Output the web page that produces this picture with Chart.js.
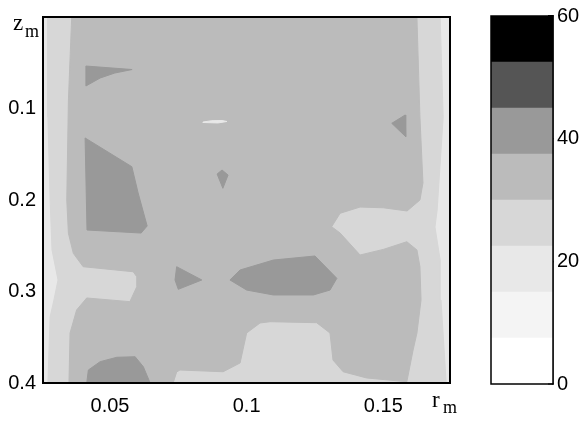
<!DOCTYPE html>
<html>
<head>
<meta charset="utf-8">
<script src="https://cdn.jsdelivr.net/npm/chart.js@4.4.1/dist/chart.umd.min.js"></script>
<style>
  html, body { margin: 0; padding: 0; background: #ffffff; }
  #wrap { position: relative; width: 584px; height: 421px; }
  #main { position: absolute; left: 0; top: 0; }
  #bar { position: absolute; left: 470px; top: 0; }
</style>
</head>
<body>
<div id="wrap">
  <canvas id="main" width="584" height="421"></canvas>
  <canvas id="bar" width="114" height="421"></canvas>
</div>
<script>
// ---- colour levels (colour bar) ----
const levels = [0, 7.5, 15, 22.5, 30, 37.5, 45, 52.5, 60];
const bandColors = ['#ffffff', '#f4f4f4', '#e8e8e8', '#d7d7d7', '#bbbbbb', '#999999', '#555555', '#000000'];
const barTickValues = [0, 20, 40, 60];

// ---- axes ----
const rRange = [0.0255, 0.1744];
const zRange = [0, 0.4];
const rTicks = [0.05, 0.1, 0.15];
const rTickLabels = ['0.05', '0.1', '0.15'];
const zTicks = [0.1, 0.2, 0.3, 0.4];
const zTickLabels = ['0.1', '0.2', '0.3', '0.4'];

// ---- contour regions [r, z] (band index = colour level) ----
const regionOuter = [[0.0255, 0], [0.1744, 0], [0.1744, 0.4], [0.0255, 0.4]];            // band 2
const regionLight = [[0.0273, 0], [0.0273, 0.1093], [0.0281, 0.2], [0.0288, 0.2546], [0.0310, 0.2874],
  [0.0295, 0.3093], [0.0281, 0.3279], [0.0273, 0.4], [0.1730, 0.4], [0.1711, 0.3093], [0.1708, 0.2656],
  [0.1689, 0.2295], [0.1697, 0.2109], [0.1719, 0.1093], [0.1708, 0]];                        // band 3
const regionMid = [[0.0360, 0], [0.1623, 0], [0.1634, 0.1093], [0.1645, 0.1814], [0.1634, 0.2],
  [0.1587, 0.2120], [0.1500, 0.2085], [0.1415, 0.2077], [0.1342, 0.2145], [0.1311, 0.2292],
  [0.1342, 0.2361], [0.1415, 0.2601], [0.1500, 0.2540], [0.1586, 0.2456], [0.1623, 0.2546],
  [0.1634, 0.2729], [0.1638, 0.3093], [0.1623, 0.3454], [0.1609, 0.3639], [0.1586, 0.3986],
  [0.1439, 0.3945], [0.1353, 0.3877], [0.1316, 0.3749], [0.1305, 0.3454], [0.1256, 0.3341],
  [0.1086, 0.3330], [0.1049, 0.3344], [0.1000, 0.3454], [0.0976, 0.3781], [0.0914, 0.3877],
  [0.0756, 0.3858], [0.0744, 0.3880], [0.0731, 0.4], [0.0350, 0.4], [0.0354, 0.3454],
  [0.0378, 0.3202], [0.0415, 0.3071], [0.0573, 0.3111], [0.0598, 0.2948], [0.0598, 0.2838],
  [0.0585, 0.2784], [0.0402, 0.2729], [0.0366, 0.2583], [0.0348, 0.2364], [0.0342, 0.2],
  [0.0348, 0.0907]];                                                                         // band 4
const darkTopLeft = [[0.0412, 0.0536], [0.0581, 0.0574], [0.0518, 0.0612], [0.0464, 0.0667], [0.0412, 0.0754]];
const darkLeft = [[0.0409, 0.1322], [0.0580, 0.1636], [0.0603, 0.1923], [0.0636, 0.2284], [0.0614, 0.2361], [0.0416, 0.2328]];
const darkCentre = [[0.0892, 0.1716], [0.0910, 0.1672], [0.0932, 0.1727], [0.0913, 0.1872]];
const darkRight = [[0.1531, 0.1162], [0.1580, 0.1071], [0.1582, 0.1308]];
const darkSmall = [[0.0744, 0.2729], [0.0836, 0.2874], [0.0750, 0.2976], [0.0738, 0.2874]];
const darkOval = [[0.0939, 0.2874], [0.0976, 0.2765], [0.1098, 0.2656], [0.1250, 0.2612], [0.1330, 0.2856],
  [0.1305, 0.2984], [0.1244, 0.3038], [0.1098, 0.3038], [0.1000, 0.2984]];
const darkBottom = [[0.0415, 0.4], [0.0421, 0.3858], [0.0464, 0.3767], [0.0525, 0.3719], [0.0592, 0.3713],
  [0.0622, 0.3822], [0.0647, 0.4]];
const speck = [[0.0840, 0.1148], [0.0873, 0.1133], [0.0910, 0.1131], [0.0928, 0.1142], [0.0895, 0.1158], [0.0840, 0.1153]];

const regions = [
  { pts: regionOuter, band: 2 },
  { pts: regionLight, band: 3 },
  { pts: regionMid, band: 4 },
  { pts: darkTopLeft, band: 5 },
  { pts: darkLeft, band: 5 },
  { pts: darkCentre, band: 5 },
  { pts: darkRight, band: 5 },
  { pts: darkSmall, band: 5 },
  { pts: darkOval, band: 5 },
  { pts: darkBottom, band: 5 },
  { pts: speck, band: 2 }
];

Chart.defaults.color = '#000';
Chart.defaults.font.family = '"Liberation Sans", Arial, sans-serif';
Chart.defaults.font.size = 20;

const datasets = regions.map((reg, i) => {
  const pts = reg.pts.map(([x, y]) => ({ x, y }));
  pts.push({ x: reg.pts[0][0], y: reg.pts[0][1] });
  return {
    data: pts,
    showLine: true,
    fill: 'shape',
    backgroundColor: bandColors[reg.band],
    borderColor: bandColors[reg.band],
    borderWidth: 1,
    pointRadius: 0,
    tension: 0,
    order: -i
  };
});

const zeroPad = s => { s.paddingTop = 0; s.paddingBottom = 0; s.paddingLeft = 0; s.paddingRight = 0; };

const framePlugin = {
  id: 'frame',
  afterDraw(chart, args, opts) {
    const { ctx, chartArea: a } = chart;
    ctx.save();
    ctx.strokeStyle = '#000';
    ctx.lineWidth = opts.width || 2;
    ctx.strokeRect(a.left, a.top, a.right - a.left, a.bottom - a.top);
    ctx.restore();
  }
};

const axisNamePlugin = {
  id: 'axisNames',
  afterDraw(chart) {
    const ctx = chart.ctx;
    ctx.save();
    ctx.fillStyle = '#000';
    ctx.textBaseline = 'alphabetic';
    ctx.textAlign = 'left';
    ctx.font = '23px "Liberation Serif", "Times New Roman", serif';
    ctx.fillText('z', 13, 30);
    ctx.fillText('r', 432, 407);
    ctx.font = '18px "Liberation Serif", "Times New Roman", serif';
    ctx.fillText('m', 25, 37);
    ctx.fillText('m', 443, 413);
    ctx.restore();
  }
};

new Chart(document.getElementById('main'), {
  type: 'scatter',
  data: { datasets },
  options: {
    responsive: false,
    animation: false,
    events: [],
    layout: { padding: { left: 0, top: 17, right: 134, bottom: 0 } },
    plugins: { legend: { display: false }, tooltip: { enabled: false }, frame: { width: 2 } },
    scales: {
      x: {
        type: 'linear', position: 'bottom', min: rRange[0], max: rRange[1],
        afterBuildTicks: s => { s.ticks = rTicks.map(v => ({ value: v })); },
        afterFit: s => { s.height = 38; zeroPad(s); },
        ticks: { padding: 16, autoSkip: false, maxRotation: 0, callback: (v) => rTickLabels[rTicks.indexOf(v)] },
        grid: { display: true, drawOnChartArea: false, drawTicks: true, tickLength: -5, color: '#000', lineWidth: 1.5 },
        border: { display: true, color: '#000', width: 2 }
      },
      y: {
        type: 'linear', position: 'left', min: zRange[0], max: zRange[1], reverse: true,
        afterBuildTicks: s => { s.ticks = zTicks.map(v => ({ value: v })); },
        afterFit: s => { s.width = 43; zeroPad(s); },
        ticks: { padding: 12, autoSkip: false, callback: (v) => zTickLabels[zTicks.indexOf(v)] },
        grid: { display: true, drawOnChartArea: false, drawTicks: true, tickLength: -5, color: '#000', lineWidth: 1.5 },
        border: { display: true, color: '#000', width: 2 }
      }
    }
  },
  plugins: [framePlugin, axisNamePlugin]
});

// ---- colour bar ----
const barDatasets = bandColors.map((c, i) => ({
  data: [levels[i + 1] - levels[i]],
  backgroundColor: c,
  borderWidth: 0,
  barPercentage: 1,
  categoryPercentage: 1
}));

new Chart(document.getElementById('bar'), {
  type: 'bar',
  data: { labels: [''], datasets: barDatasets },
  options: {
    responsive: false,
    animation: false,
    events: [],
    layout: { padding: { left: 21, top: 16, right: 0, bottom: 37 } },
    plugins: { legend: { display: false }, tooltip: { enabled: false }, frame: { width: 1.5 } },
    scales: {
      x: { stacked: true, display: false },
      y: {
        stacked: true, position: 'right', min: levels[0], max: levels[levels.length - 1],
        afterBuildTicks: s => { s.ticks = barTickValues.map(v => ({ value: v })); },
        afterFit: s => { s.width = 31; zeroPad(s); },
        ticks: { padding: 9, autoSkip: false },
        grid: { display: true, drawOnChartArea: false, drawTicks: true, tickLength: -5, color: '#000', lineWidth: 1.5 },
        border: { display: true, color: '#000', width: 1.5 }
      }
    }
  },
  plugins: [framePlugin]
});
</script>
</body>
</html>
